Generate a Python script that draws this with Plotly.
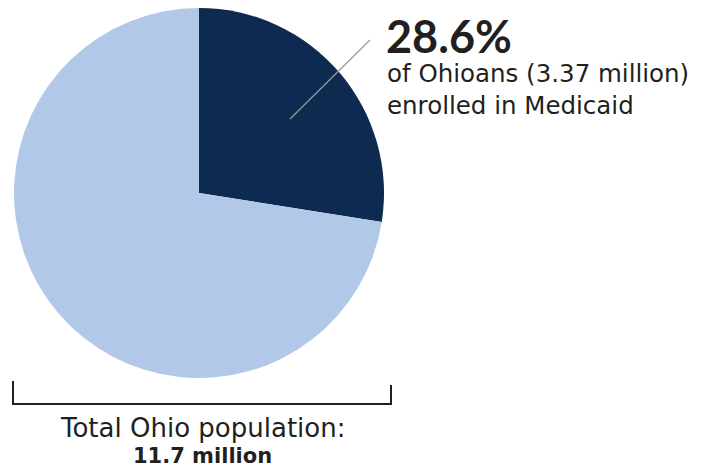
import plotly.graph_objects as go

labels = ["Enrolled in Medicaid", "Not enrolled"]
values = [27.5, 72.5]  # slice share as drawn in the picture
colors = ["#0f2a50", "#b1c8e8"]
headline = "28.6%"
sub_lines = ["of Ohioans (3.37 million)", "enrolled in Medicaid"]
total_label = "Total Ohio population:"
total_value = "11.7 million"

W, H = 709, 475
def px(x): return x / W
def py(y): return 1 - y / H

fig = go.Figure(go.Pie(
    labels=labels, values=values, sort=False, direction="clockwise", rotation=0,
    marker=dict(colors=colors, line=dict(width=0)),
    textinfo="none", hoverinfo="label",
    domain=dict(x=[px(14), px(384)], y=[py(378), py(8)]),
    showlegend=False,
))

txt = "#231f20"
def note(x, y, text, size, anchor="left", family="DejaVu Sans"):
    fig.add_annotation(x=px(x), y=py(y), xref="paper", yref="paper", xanchor=anchor, yanchor="middle",
                       text=text, showarrow=False, font=dict(family=family, size=size, color=txt))

note(384, 36, "<b>" + headline + "</b>", 45, family="Lato")
note(385, 74, sub_lines[0], 24.5)
note(385, 105, sub_lines[1], 24.5)
note(202, 428, total_label, 26, anchor="center")
note(202, 456, "<b>" + total_value + "</b>", 21, anchor="center")

# leader line
fig.add_shape(type="line", xref="paper", yref="paper", x0=px(290), y0=py(119), x1=px(370), y1=py(40),
              line=dict(color="#9a9a9a", width=1.2))
# bracket
bc = dict(color="#231f20", width=2)
fig.add_shape(type="line", xref="paper", yref="paper", x0=px(13), y0=py(404), x1=px(391), y1=py(404), line=bc)
fig.add_shape(type="line", xref="paper", yref="paper", x0=px(13), y0=py(381), x1=px(13), y1=py(405), line=bc)
fig.add_shape(type="line", xref="paper", yref="paper", x0=px(391), y0=py(385), x1=px(391), y1=py(405), line=bc)

fig.update_layout(width=W, height=H, margin=dict(l=0, r=0, t=0, b=0),
                  paper_bgcolor="white", plot_bgcolor="white")
fig.write_html("out.html", config={"displayModeBar": False},
               post_script="document.body.style.margin='0px';")
